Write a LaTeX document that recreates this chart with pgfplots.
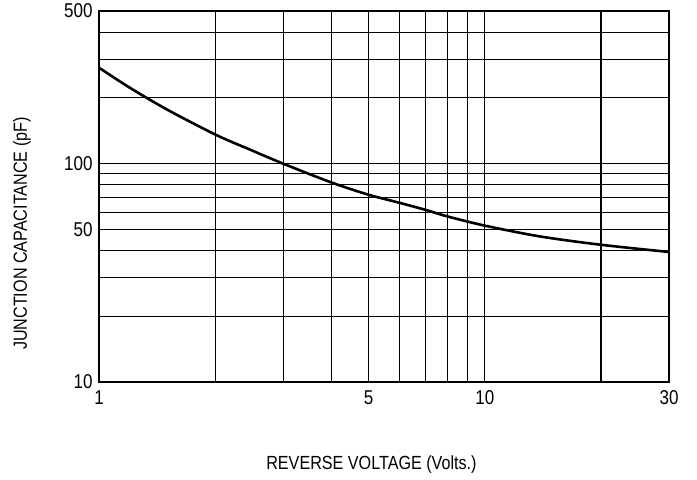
\documentclass[border=0pt]{standalone}
\usepackage{fontspec}
\setmainfont[FakeStretch=0.85]{Liberation Sans}
\usepackage{pgfplots}
\pgfplotsset{compat=1.18}
\begin{document}
\begin{tikzpicture}
\begin{axis}[
    xmode=log, ymode=log,
    scale only axis, width=570pt, height=371pt,
    xmin=1, xmax=30, ymin=10, ymax=500,
    xtick={1,2,3,4,5,6,7,8,9,10,20,30},
    xticklabels={1,,,,5,,,,,10,,30},
    ytick={10,20,30,40,50,60,70,80,90,100,200,300,400,500},
    yticklabels={10,,,,50,,,,,100,,,,500},
    tick style={draw=none},
    grid=major,
    major grid style={black, line width=1.1pt},
    axis line style={black, line width=1.2pt},
    tick label style={font=\fontsize{20}{20}\selectfont},
    xticklabel style={yshift=-5pt},
    yticklabel style={xshift=-3pt},
    xlabel={REVERSE VOLTAGE (Volts.)},
    ylabel={JUNCTION CAPACITANCE (pF)},
    label style={font=\fontsize{19}{19}\selectfont},
    xlabel style={at={(rel axis cs:0.478,0)}, anchor=center, yshift=-83pt},
    ylabel style={at={(rel axis cs:-0.135,0.40)}, anchor=center},
]
\addplot[black, line width=2.6pt, smooth] coordinates {
    (1,275) (1.2,223) (1.5,177) (2,136) (2.46,116) (3,100) (4,82) (5,72)
    (6,66.2) (7,61.5) (8,57.3) (10,52) (13.9,46.4) (20,42.5) (30,39.4)
};
\end{axis}
\pgfresetboundingbox
\path[use as bounding box] ([xshift=-99pt,yshift=-97pt]current axis.south west)
    rectangle ([xshift=28pt,yshift=11pt]current axis.north east);
\end{tikzpicture}
\end{document}
